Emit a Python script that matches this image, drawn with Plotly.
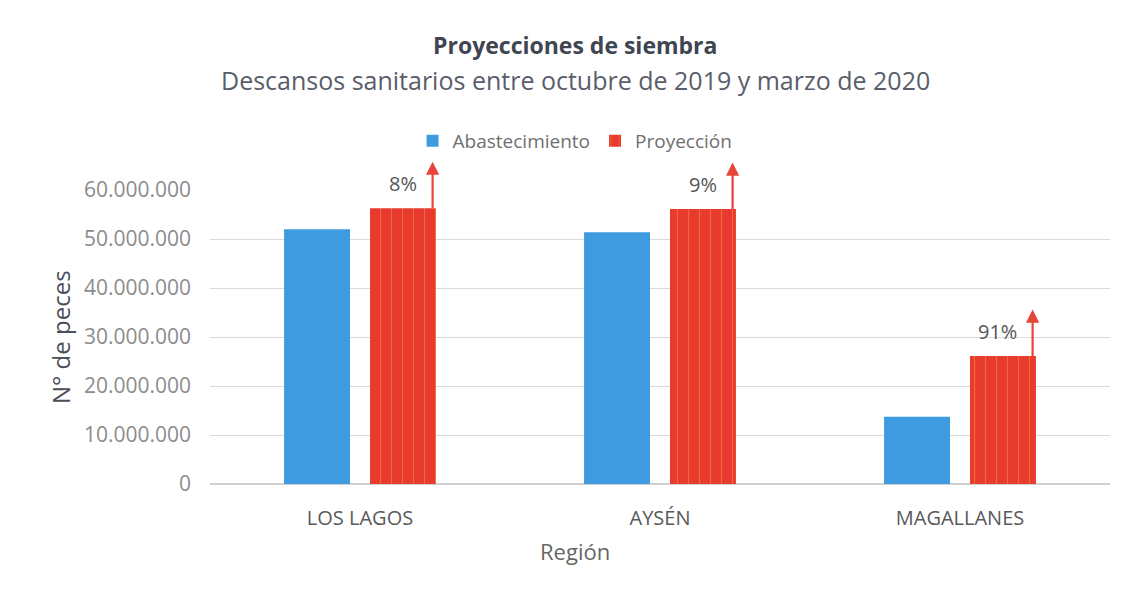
import plotly.graph_objects as go

regiones = ["LOS LAGOS", "AYSÉN", "MAGALLANES"]
abastecimiento = [52_000_000, 51_400_000, 13_700_000]
proyeccion = [56_300_000, 56_100_000, 26_100_000]
porcentajes = ["8%", "9%", "91%"]
y_ticks = [0, 10_000_000, 20_000_000, 30_000_000, 40_000_000, 50_000_000, 60_000_000]

FONT = "Open Sans"
BLUE = "#3f9be0"
RED = "#e83a2e"

fig = go.Figure()
fig.add_trace(go.Bar(name="Abastecimiento", x=regiones, y=abastecimiento,
                     marker=dict(color=BLUE, line=dict(width=0))))
fig.add_trace(go.Bar(name="Proyección", x=regiones, y=proyeccion,
                     marker=dict(color=RED, line=dict(width=0),
                                 pattern=dict(shape="|", fgcolor="#f29a3a", bgcolor=RED,
                                              size=11, solidity=0.1))))

for i, (v, p) in enumerate(zip(proyeccion, porcentajes)):
    fig.add_annotation(x=i + 0.242, y=v, xref="x", yref="y", text="", showarrow=True,
                       arrowside="start", startarrowhead=2, startarrowsize=1.2, arrowwidth=2.2,
                       arrowcolor="#e8453a", ax=0, ay=-48)
    fig.add_annotation(x=i + 0.195, y=v, xref="x", yref="y", text=p, showarrow=False,
                       xanchor="right", yanchor="middle", yshift=25,
                       font=dict(family=FONT, size=20, color="#555555"))

# titles and axis titles as annotations
fig.add_annotation(x=0.4056, y=1.493, xref="paper", yref="paper", showarrow=False,
                   text="<b>Proyecciones de siembra</b>", xanchor="center", yanchor="middle",
                   font=dict(family=FONT, size=23, color="#404552"))
fig.add_annotation(x=0.4056, y=1.374, xref="paper", yref="paper", showarrow=False,
                   text="Descansos sanitarios entre octubre de 2019 y marzo de 2020",
                   xanchor="center", yanchor="middle",
                   font=dict(family=FONT, size=25, color="#595e6a"))
fig.add_annotation(x=-0.1667, y=0.5, xref="paper", yref="paper", showarrow=False,
                   text="N° de peces", textangle=-90, xanchor="center", yanchor="middle",
                   font=dict(family=FONT, size=24, color="#4a4f5a"))
fig.add_annotation(x=0.4056, y=-0.228, xref="paper", yref="paper", showarrow=False,
                   text="Región", xanchor="center", yanchor="middle",
                   font=dict(family=FONT, size=22, color="#666666"))

fig.update_layout(
    width=1132, height=594,
    paper_bgcolor="white", plot_bgcolor="white",
    margin=dict(l=202, r=30, t=182, b=118, autoexpand=False),
    separators=",.",
    barmode="group", bargap=0.427, bargroupgap=0.233,
    font=dict(family=FONT, color="#7f7f7f"),
    showlegend=True,
    legend=dict(orientation="h", x=0.4056, xanchor="center", y=1.167, yanchor="middle",
                font=dict(family=FONT, size=19, color="#6f6f6f"),
                itemwidth=30, traceorder="normal"),
    xaxis=dict(showgrid=False, showline=False, ticks="", automargin=False,
               ticklabelstandoff=20,
               tickfont=dict(family=FONT, size=20, color="#595959")),
    yaxis=dict(range=[0, 60_000_000], tickvals=y_ticks, tickformat=",d", automargin=False,
               showgrid=True, gridcolor="#d9d9d9", gridwidth=1,
               zeroline=True, zerolinecolor="#d0d0d0", showline=False,
               ticklabelstandoff=18,
               tickfont=dict(family=FONT, size=21, color="#8c8c8c")),
)

fig.write_html("out.html")
